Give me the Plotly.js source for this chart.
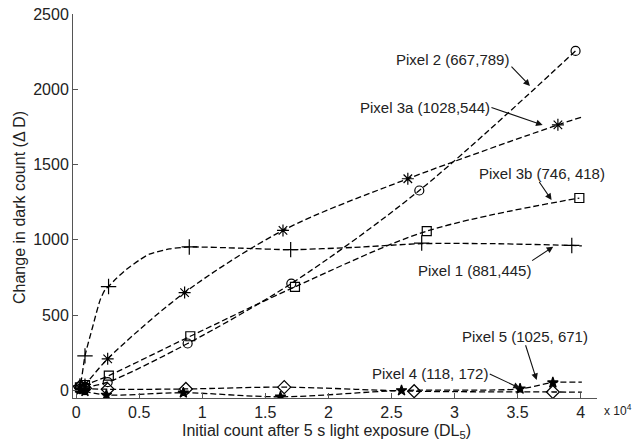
<!DOCTYPE html>
<html>
<head>
<meta charset="utf-8">
<script src="https://cdn.plot.ly/plotly-3.0.1.min.js"></script>
<style>html,body{margin:0;padding:0;background:#fff;}#chart{width:633px;height:440px;}</style>
</head>
<body>
<div id="chart"></div>
<script>
// ---- data ----
const xTickVals = [0, 5000, 10000, 15000, 20000, 25000, 30000, 35000, 40000];
const xTickText = ["0", "0.5", "1", "1.5", "2", "2.5", "3", "3.5", "4"];
const yTickVals = [0, 500, 1000, 1500, 2000, 2500];

// Pixel 1 (881,445) : plus markers
const p1x = [300, 700, 2570, 8970, 17010, 27400, 39300];
const p1y = [30, 230, 690, 953, 935, 979, 963];
const p1cx = [0, 300, 700, 1300, 1900, 2300, 2570, 3200, 4000, 5000, 5800, 7400, 8970, 13000, 17010, 22000, 27400, 33000, 39300, 40100];
const p1cy = [0, 30, 230, 420, 600, 670, 690, 745, 805, 865, 905, 940, 953, 945, 935, 950, 975, 975, 963, 960];

// Pixel 2 (667,789) : circles
const p2x = [300, 700, 2500, 8840, 17060, 27210, 39600];
const p2y = [10, 20, 55, 312, 710, 1328, 2255];

// Pixel 3a (1028,544) : asterisks
const p3ax = [300, 700, 2500, 8600, 16400, 26300, 38200];
const p3ay = [15, 40, 210, 650, 1063, 1406, 1764];
const p3aEnd = [40100, 1815];

// Pixel 3b (746,418) : squares
const p3bx = [300, 700, 2590, 9050, 17350, 27800, 39900];
const p3by = [20, 35, 99, 360, 688, 1058, 1278];

// Pixel 4 (118,172) : diamonds
const p4x = [300, 700, 2500, 8700, 16500, 26800, 37800];
const p4y = [25, 15, 8, 10, 22, -5, -10];
const p4End = [40100, -11];

// Pixel 5 (1025,671) : pentagrams
const p5x = [300, 700, 2400, 8500, 16200, 25800, 35200, 37800];
const p5y = [5, -5, -30, -15, -42, 0, 11, 52];
const p5End = [40100, 55];

const labels = ["Pixel 2 (667,789)", "Pixel 3a (1028,544)", "Pixel 3b (746, 418)", "Pixel 1 (881,445)", "Pixel 5 (1025, 671)", "Pixel 4 (118, 172)"];

// ---- build ----
const dashStyle = "6px,3px";
function curve(xs, ys, end) {
  const cx = [0].concat(xs), cy = [0].concat(ys);
  if (end) { cx.push(end[0]); cy.push(end[1]); }
  return {x: cx, y: cy};
}
function lineTrace(c, sm) {
  return {x: c.x, y: c.y, mode: "lines", type: "scatter", hoverinfo: "skip",
    line: {color: "#000", width: 1.3, dash: dashStyle, shape: "spline", smoothing: sm}, showlegend: false};
}
function markTrace(xs, ys, sym, size) {
  return {x: xs, y: ys, mode: "markers", type: "scatter", showlegend: false,
    marker: {symbol: sym, size: size, color: "#000", line: {color: "#000", width: 1.2}}};
}
const traces = [
  lineTrace({x: p1cx, y: p1cy}, 0.6),
  lineTrace(curve(p2x, p2y, null), 0.9),
  lineTrace(curve(p3ax, p3ay, p3aEnd), 0.9),
  lineTrace(curve(p3bx, p3by, null), 0.9),
  lineTrace(curve(p4x, p4y, p4End), 0.9),
  lineTrace(curve(p5x, p5y, p5End), 0.9),
  markTrace(p1x, p1y, "cross-thin-open", 11),
  markTrace(p2x, p2y, "circle-open", 9),
  markTrace(p3ax, p3ay, "asterisk-open", 10),
  markTrace(p3bx, p3by, "square-open", 9),
  markTrace(p4x, p4y, "diamond-open", 10),
  markTrace(p5x, p5y, "star", 8)
];

// label positions (text centre) and arrow tips
const labelPos = [[29880, 2201], [27660, 1876], [36900, 1444], [31585, 795], [35590, 357], [28095, 110]];
const arrowTip = [[35985, 2022], [36990, 1763], [37700, 1265], [37830, 955], [36515, 70], [35190, 15]];
const arrowTail = [[-20, -21], [-52.7, -18], [-13.7, -20], [-22.6, 15], [-11.7, -36.7], [-31.7, -15]];

const font = "Liberation Sans, Arial, Helvetica, sans-serif";
const annotations = [];
labels.forEach((t, i) => {
  annotations.push({x: labelPos[i][0], y: labelPos[i][1], xref: "x", yref: "y", text: t, showarrow: false,
    font: {family: font, size: 15, color: "#222"}});
  annotations.push({x: arrowTip[i][0], y: arrowTip[i][1], xref: "x", yref: "y", text: " ", showarrow: true,
    ax: arrowTail[i][0], ay: arrowTail[i][1], arrowhead: 2, arrowsize: 1.2, arrowwidth: 1.1, arrowcolor: "#111",
    font: {size: 1}, standoff: 0, startstandoff: 0});
});
annotations.push({xref: "paper", yref: "paper", x: 1.009, y: -0.031, xanchor: "left", yanchor: "middle",
  text: "x 10<sup>4</sup>", showarrow: false, font: {family: font, size: 12, color: "#222"}});
annotations.push({xref: "paper", yref: "paper", x: 0.483, y: -0.058, xanchor: "center", yanchor: "top",
  text: "Initial count after 5 s light exposure (DL<sub>5</sub>)", showarrow: false, font: {family: font, size: 16, color: "#222"}});
annotations.push({xref: "paper", yref: "paper", x: -0.101, y: 0.495, xanchor: "center", yanchor: "middle", textangle: -90,
  text: "Change in dark count (Δ D)", showarrow: false, font: {family: font, size: 16, color: "#222"}});

const layout = {
  width: 633, height: 440,
  margin: {l: 73, r: 36, t: 14, b: 42, pad: 0},
  paper_bgcolor: "#fff", plot_bgcolor: "#fff",
  font: {family: font, size: 16, color: "#222"},
  xaxis: {range: [-250, 41300], tickvals: xTickVals, ticktext: xTickText, ticks: "inside", ticklen: 5,
    tickcolor: "#555", showline: true, linecolor: "#555", linewidth: 1, showgrid: false, zeroline: false,
    tickfont: {size: 16, color: "#222"}},
  yaxis: {range: [-50, 2500], tickvals: yTickVals, ticks: "inside", ticklen: 5,
    tickcolor: "#555", showline: true, linecolor: "#555", linewidth: 1, showgrid: false, zeroline: false,
    tickfont: {size: 16, color: "#222"}},
  annotations: annotations,
  showlegend: false
};
Plotly.newPlot("chart", traces, layout, {displayModeBar: false, staticPlot: true});
</script>
</body>
</html>
